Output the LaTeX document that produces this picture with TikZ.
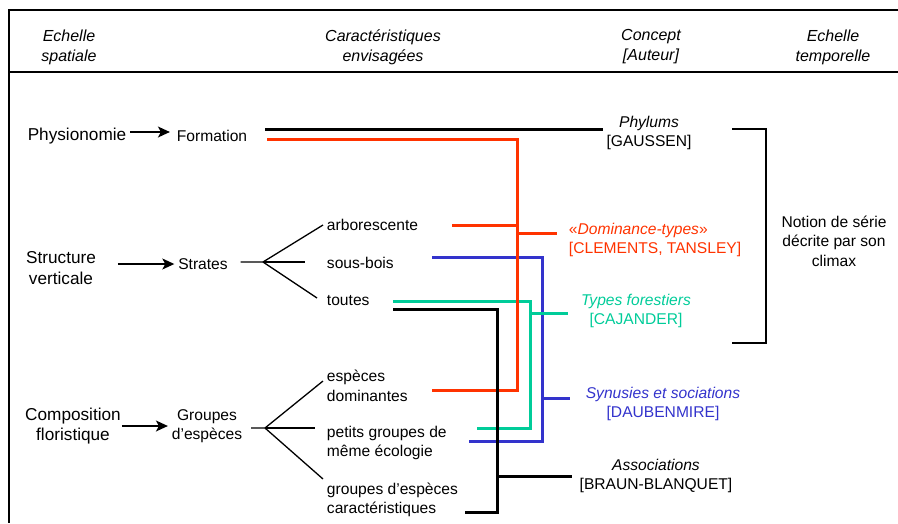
\documentclass[tikz,border=0pt]{standalone}
\usepackage{fontspec}
\setmainfont{Liberation Sans}
\usetikzlibrary{arrows.meta,positioning}

\definecolor{rouge}{HTML}{FF3300}
\definecolor{bleu}{HTML}{3333CC}
\definecolor{vert}{HTML}{00CC99}

\begin{document}
\begin{tikzpicture}[x=1pt,y=-1pt,>={Stealth[length=12pt,width=11pt,inset=3pt]},
                    line width=1.3pt]
    \tikzstyle{every node}=[font=\fontsize{15.6}{19.5}\selectfont]
    \tikzstyle{head}=[font=\fontsize{16}{20}\selectfont\itshape,align=center]
    \tikzstyle{echelle}=[font=\fontsize{17.2}{20.5}\selectfont,align=center]
    \tikzstyle{carac}=[anchor=west,align=left]
    \tikzstyle{concept}=[align=center]
    \tikzstyle{cadre}=[line width=1.5pt]
    \tikzstyle{lien}=[line width=3pt]
    \useasboundingbox (0,0) rectangle (898,523);

    % cadre et en-tetes
    \draw[cadre] (898,10) -- (9,10) -- (9,523);
    \draw[cadre] (9,72) -- (898,72);
    \node[head] (hSp) at (69,47)  {Echelle\\spatiale};
    \node[head] (hCa) at (383,47) {Caractéristiques\\envisagées};
    \node[head] (hCo) at (651,47) {Concept\\{}[Auteur]};
    \node[head] (hTe) at (833,47) {Echelle\\temporelle};

    % echelle spatiale -> caracteristiques
    \node[echelle] (phys) at (77,136)  {Physionomie};
    \node          (form) at (212,136) {Formation};
    \node[echelle] (sv)   at (61,268)  {Structure\\verticale};
    \node          (strat) at (203,264) {Strates};
    \node[echelle] (cf)   at (73,426)  {Composition\\floristique};
    \node[align=center] (ge) at (207,426) {Groupes\\d’espèces};

    \node[carac] (arb) at (323,225) {arborescente};
    \node[carac] (sb)  at (323,263) {sous-bois};
    \node[carac] (tou) at (323,301) {toutes};
    \node[carac] (ed)  at (323,386) {espèces\\dominantes};
    \node[carac] (pg)  at (323,443) {petits groupes de\\même écologie};
    \node[carac] (gc)  at (323,500) {groupes d’espèces\\caractéristiques};

    \draw[->,shorten >=3pt] (phys.east |- 0,132) -- (form.west |- 0,132);
    \draw[->] ([xshift=18pt]sv.east |- strat.west) -- (strat.west);
    \draw[->,shorten <=-3pt] (cf.east |- ge.west) -- (ge.west);

    \coordinate (hubS) at (263,262);
    \coordinate (hubG) at (265,428);
    \draw ([xshift=9pt]strat.east |- hubS) -- (hubS) -- (arb.west);
    \draw (hubS) -- ([xshift=-18pt]sb.west |- hubS);
    \draw (hubS) -- ([shift={(-6pt,3pt)}]tou.west);
    \draw ([xshift=5pt]ge.east |- hubG) -- (hubG) -- ([yshift=5pt]ed.west);
    \draw (hubG) -- ([xshift=-8pt]pg.west |- hubG);
    \draw (hubG) -- ([yshift=21pt]gc.west);

    % concepts
    \node[concept] (phy) at (649,133) {\textit{Phylums}\\{}[GAUSSEN]};
    \node[concept,anchor=west,align=left,text=rouge] (dom) at (565,240)
        {«\textit{Dominance-types}»\\{}[CLEMENTS, TANSLEY]};
    \node[concept,text=vert] (tf)  at (636,311) {\textit{Types forestiers}\\{}[CAJANDER]};
    \node[concept,text=bleu] (syn) at (663,404) {\textit{Synusies et sociations}\\{}[DAUBENMIRE]};
    \node[concept] (ass) at (656,476) {\textit{Associations}\\{}[BRAUN-BLANQUET]};
    \node[concept] (notion) at (834,241) {Notion de série\\décrite par son\\climax};

    % liens
    \coordinate (fNoir)  at (265,129);
    \coordinate (fRouge) at (267,139);
    \coordinate (aRouge) at (452,225);
    \coordinate (sBleu)  at (432,257);
    \coordinate (tVert)  at (393,301);
    \coordinate (tNoir)  at (393,309);
    \coordinate (eRouge) at (432,390);
    \coordinate (pVert)  at (477,428);
    \coordinate (pBleu)  at (469,441);
    \coordinate (gNoir)  at (465,512);
    \coordinate (jRouge) at (517,233);
    \coordinate (jVert)  at (530,313);
    \coordinate (jBleu)  at (542,398);
    \coordinate (jNoir)  at (497,476);

    \draw[lien,bleu] (sBleu) -| (jBleu) |- (pBleu);
    \draw[lien,bleu,shorten >=12pt] (jBleu) -- (jBleu -| syn.west);
    \draw[lien,vert] (tVert) -| (jVert) |- (pVert);
    \draw[lien,vert,shorten >=9pt] (jVert) -- (jVert -| tf.west);
    \draw[lien,rouge] (fRouge) -| (jRouge) |- (eRouge);
    \draw[lien,rouge] (aRouge) -- (aRouge -| jRouge);
    \draw[lien,rouge,shorten >=8pt] (jRouge) -- (jRouge -| dom.west);
    \draw[lien] (fNoir) -- (fNoir -| phy.west);
    \draw[lien] (tNoir) -| (jNoir) |- (gNoir);
    \draw[lien,shorten >=4pt] (jNoir) -- (jNoir -| ass.west);

    % echelle temporelle
    \coordinate (bHaut) at (732,129);
    \coordinate (bBas)  at (732,343);
    \draw[cadre] (bHaut) -- ++(34,0) |- (bBas);
\end{tikzpicture}
\end{document}
